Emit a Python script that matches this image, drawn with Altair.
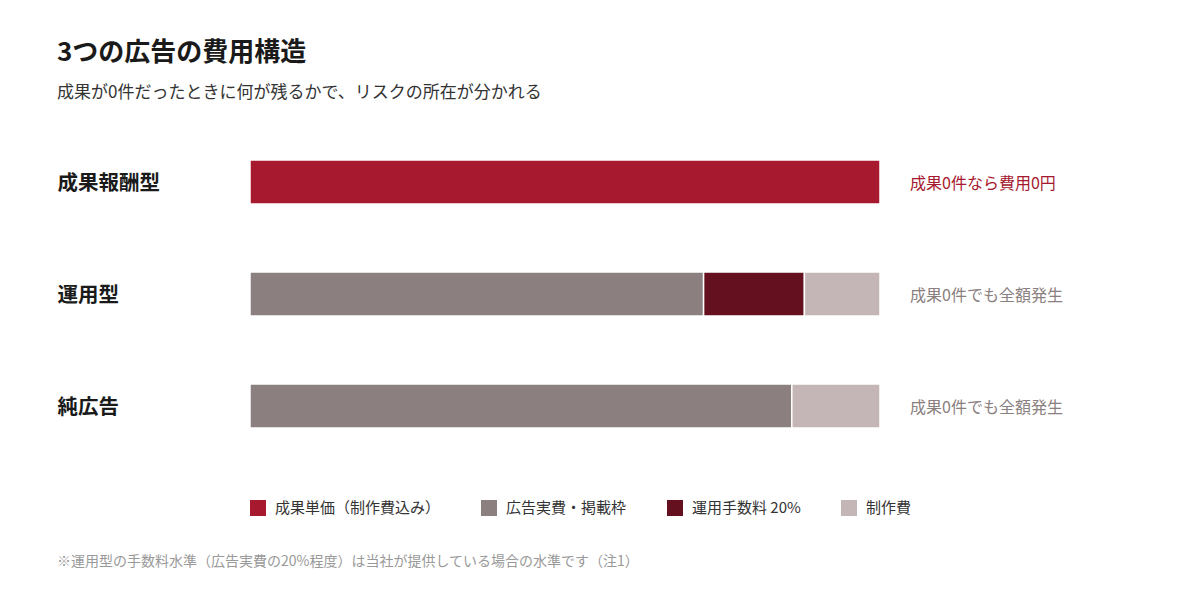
import altair as alt
import pandas as pd

FONT = "Noto Sans CJK JP"

# ---- data ----
types = ["成果報酬型", "運用型", "運用型", "運用型", "純広告", "純広告"]
components = ["成果単価（制作費込み）", "広告実費・掲載枠", "運用手数料 20%", "制作費",
              "広告実費・掲載枠", "制作費"]
values = [100, 72, 16, 12, 86, 14]
order = [0, 1, 2, 3, 1, 3]

type_order = ["成果報酬型", "運用型", "純広告"]
notes = ["成果0件なら費用0円", "成果0件でも全額発生", "成果0件でも全額発生"]
note_colors = ["#A6192E", "#8B7F80", "#8B7F80"]

legend_domain = ["成果単価（制作費込み）", "広告実費・掲載枠", "運用手数料 20%", "制作費"]
legend_colors = ["#A6192E", "#8B7F80", "#64101E", "#C4B5B7"]

title_text = "3つの広告の費用構造"
subtitle_text = "成果が0件だったときに何が残るかで、リスクの所在が分かれる"
footnote_text = "※運用型の手数料水準（広告実費の20%程度）は当社が提供している場合の水準です（注1）"

df = pd.DataFrame({"type": types, "component": components, "value": values, "ord": order})
totals = df.groupby("type", sort=False)["value"].sum().reindex(type_order).tolist()
notes_df = pd.DataFrame({"type": type_order, "total": totals, "note": notes, "color": note_colors})

y_enc = alt.Y("type:N", sort=type_order,
              scale=alt.Scale(paddingInner=0.6071, paddingOuter=0.3036),
              axis=alt.Axis(title=None, domain=False, ticks=False, grid=False,
                            labelAlign="left", labelPadding=193, labelFontSize=20.5,
                            labelFontWeight="bold", labelColor="#1a1a1a", labelFont=FONT,
                            labelOffset=2))

bars = alt.Chart(df).mark_bar(stroke="white", strokeWidth=1.5).encode(
    x=alt.X("value:Q", stack="zero", scale=alt.Scale(domain=[0, 100], nice=False), axis=None),
    y=y_enc,
    color=alt.Color("component:N",
                    scale=alt.Scale(domain=legend_domain, range=legend_colors),
                    legend=alt.Legend(title=None, orient="none", legendX=0, legendY=374,
                                      direction="horizontal", columns=4, symbolType="square",
                                      symbolSize=256, symbolStrokeWidth=0, labelFontSize=15,
                                      labelFont=FONT, labelColor="#333333", labelOffset=9,
                                      labelLimit=400, columnPadding=40)),
    order=alt.Order("ord:Q"),
)

ann = alt.Chart(notes_df).mark_text(align="left", baseline="middle", dx=30, dy=2, fontSize=16,
                                     font=FONT).encode(
    x=alt.X("total:Q"),
    y=alt.Y("type:N", sort=type_order),
    text="note:N",
    color=alt.Color("color:N", scale=None),
)

def label(text, x, y, size, weight="normal", color="#222222"):
    return alt.Chart(pd.DataFrame({"t": [text]})).mark_text(
        align="left", baseline="middle", fontSize=size, fontWeight=weight,
        color=color, font=FONT).encode(x=alt.value(x), y=alt.value(y), text="t:N")

title = label(title_text, -193, -73, 26, "bold", "#1a1a1a")
subtitle = label(subtitle_text, -193, -33, 17, "normal", "#333333")
footnote = label(footnote_text, -193, 436, 14, "normal", "#999999")

chart = alt.layer(bars, ann, title, subtitle, footnote).properties(
    width=630, height=336,
    autosize=alt.AutoSizeParams(type="none"),
    padding={"left": 242, "top": 118, "right": 312, "bottom": 130},
).configure(font=FONT, view=alt.ViewConfig(stroke=None))

chart.save("out.html", embed_options={"renderer": "svg", "actions": False})
